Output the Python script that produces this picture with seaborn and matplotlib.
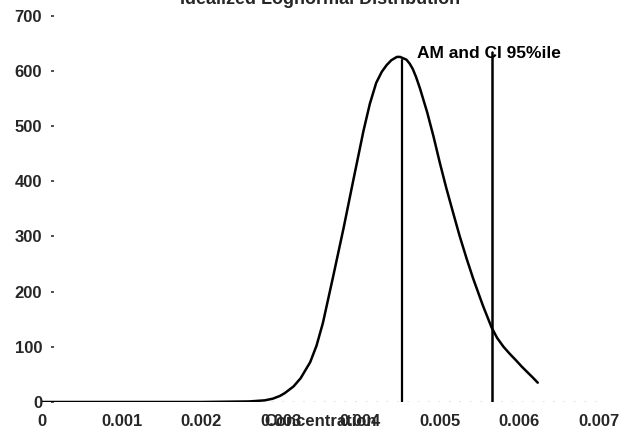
import matplotlib
matplotlib.use("Agg")
import matplotlib.pyplot as plt
import seaborn as sns
import pandas as pd

# Lognormal frequency curve (concentration vs. frequency)
concentration = [0.0, 0.0010, 0.0020, 0.0026, 0.0028, 0.0029, 0.00299, 0.00305,
                 0.00316, 0.00325, 0.00337, 0.00345, 0.00353, 0.00366, 0.00379,
                 0.00391, 0.00404, 0.00412, 0.00420, 0.00427, 0.00433, 0.00439,
                 0.00446, 0.00450, 0.00458, 0.00462, 0.00466, 0.00470, 0.00475,
                 0.00484, 0.00492, 0.00500, 0.00508, 0.00517, 0.00525, 0.00534,
                 0.00542, 0.00554, 0.00565, 0.00572, 0.00580, 0.00588, 0.00596,
                 0.00603, 0.00610, 0.00617, 0.00623]
frequency = [0, 0, 0, 1, 3, 6, 11, 16,
             28, 43, 72, 102, 143, 228, 315,
             400, 491, 540, 578, 598, 610, 619,
             625, 625, 620, 613, 603, 589, 568,
             525, 481, 433, 388, 341, 300, 258,
             223, 175, 135, 116, 100, 87, 75,
             64, 54, 44, 35]

# Arithmetic mean and upper 95% confidence limit markers
am_x = [0.00453, 0.00453]
am_y = [0, 620]
ci_x = [0.00565, 0.00565]
ci_y = [0, 634]

marker_label = "AM and CI 95%ile"
title = "Idealized Lognormal Distribution"
x_label = "Concentration"
x_ticks = [0, 0.001, 0.002, 0.003, 0.004, 0.005, 0.006, 0.007]
x_tick_labels = ["0", "0.001", "0.002", "0.003", "0.004", "0.005", "0.006", "0.007"]
y_ticks = [0, 100, 200, 300, 400, 500, 600, 700]

sns.set_theme(style="white")
plt.rcParams["font.family"] = ["Liberation Sans", "DejaVu Sans"]

curve = pd.DataFrame({"x": concentration, "y": frequency})
am = pd.DataFrame({"x": am_x, "y": am_y})
ci = pd.DataFrame({"x": ci_x, "y": ci_y})

fig = plt.figure(figsize=(6.37, 4.38), dpi=100)
ax = fig.add_axes([42 / 637, 36 / 438, 557 / 637, 386.5 / 438])

# dotted category axis along zero
ax.axhline(0, color="#888888", lw=1.0, linestyle=(0, (1.5, 6)), zorder=1)

sns.lineplot(data=curve, x="x", y="y", ax=ax, color="black", lw=1.8,
             sort=False, estimator=None, zorder=3,
             solid_joinstyle="round", solid_capstyle="round")
ax.text(0.00471, 632, marker_label, fontsize=12.5, fontweight="bold",
        ha="left", va="center", color="black", zorder=2)
sns.lineplot(data=am, x="x", y="y", ax=ax, color="black", lw=1.6,
             sort=False, estimator=None, zorder=4)
sns.lineplot(data=ci, x="x", y="y", ax=ax, color="black", lw=1.8,
             sort=False, estimator=None, zorder=4)

ax.set_xlim(0, 0.007)
ax.set_ylim(0, 700)
ax.set_xticks(x_ticks)
ax.set_xticklabels(x_tick_labels)
ax.set_yticks(y_ticks)

for s in ax.spines.values():
    s.set_visible(False)
ax.spines["left"].set_position(("outward", -8.5))

ax.tick_params(axis="x", length=0, pad=8.5, labelsize=12)
ax.tick_params(axis="y", direction="out", length=2.5, width=1.2, color="#333333",
               pad=6, labelsize=12, left=True)
for lab in ax.get_xticklabels() + ax.get_yticklabels():
    lab.set_fontweight("bold")

ax.set_xlabel(x_label, fontsize=12, fontweight="bold")
ax.xaxis.set_label_coords(0.5, -0.031)
ax.xaxis.label.set_va("top")
ax.set_ylabel("")

fig.text(320 / 637, 1 - 4 / 438, title, fontsize=13, fontweight="bold",
         ha="center", va="baseline")

fig.savefig("out.png", dpi=100)
